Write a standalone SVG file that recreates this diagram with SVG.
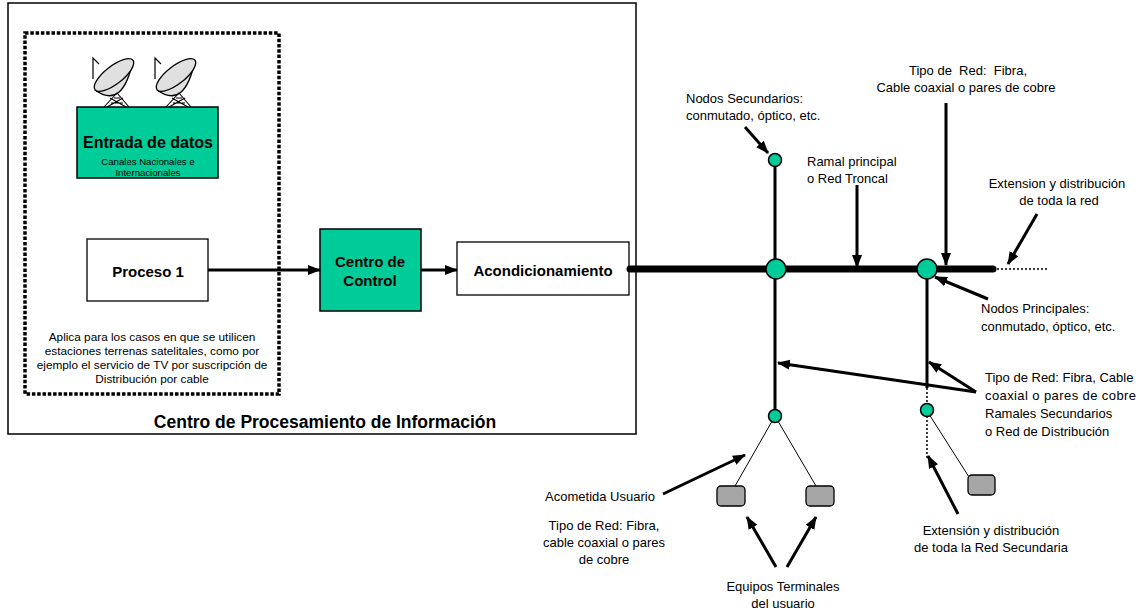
<svg xmlns="http://www.w3.org/2000/svg" width="1141" height="614" viewBox="0 0 1141 614">
<style>
  text { font-family: "Liberation Sans", Arial, sans-serif; fill: #000; white-space: pre; }
  .b { font-weight: bold; font-size: 15px; text-anchor: middle; }
  .title { font-weight: bold; font-size: 17.5px; text-anchor: middle; }
  .lbl { font-size: 13px; }
  .c { text-anchor: middle; }
  .desc { font-size: 11.8px; text-anchor: middle; }
  .small { font-size: 9.6px; text-anchor: middle; }
  .box { fill: #fff; stroke: #000; stroke-width: 1.3; }
  .teal { fill: #00CC99; stroke: #000; stroke-width: 1.5; }
  .node { fill: #00CC99; stroke: #000; stroke-width: 1.5; }
  .term { fill: #A6A6A6; stroke: #000; stroke-width: 1.3; }
  .arr { stroke: #000; stroke-width: 3; fill: none; marker-end: url(#ah); }
  .line { stroke: #000; fill: none; }
  .dish { fill: #E0E0E0; stroke: #000; stroke-width: 1.3; }
</style>
<defs>
  <marker id="ah" markerUnits="userSpaceOnUse" markerWidth="14" markerHeight="12" refX="12" refY="5" orient="auto">
    <path d="M0,0 L13,5 L0,10 Z" fill="#000"/>
  </marker>
  <g id="dishShape">
    <path d="M0,21 L0,0 L6,6" class="line" stroke-width="1.2"/>
    <path d="M2,32 Q30,52 40,2" class="dish"/>
    <ellipse cx="21" cy="17" rx="24" ry="9" transform="rotate(-38 21 17)" class="dish"/>
    <path d="M11,49 L24,35 L36,49 M14,49 L30,40 M33,49 L17,40 M18,45 L30,45 M21,40 L27,40" class="line" stroke-width="1.1"/>
  </g>
</defs>

<g id="centro-procesamiento">
  <rect x="8" y="3" width="628" height="431" fill="none" stroke="#000" stroke-width="1.5"/>
  <text class="title" x="325" y="428">Centro de Procesamiento de Información</text>
</g>

<g id="zona-satelital">
  <rect x="25" y="33" width="254" height="361" fill="none" stroke="#000" stroke-width="3.5" stroke-dasharray="3.5 1.8"/>
  <text class="desc" x="152" y="341">Aplica para los casos en que se utilicen</text>
  <text class="desc" x="152" y="355">estaciones terrenas satelitales, como por</text>
  <text class="desc" x="152" y="369">ejemplo el servicio de TV por suscripción de</text>
  <text class="desc" x="152" y="383">Distribución por cable</text>
</g>

<g id="antenas">
  <use href="#dishShape" x="93" y="58"/>
  <use href="#dishShape" x="155" y="58"/>
</g>

<g id="entrada-datos">
  <rect x="77" y="107" width="141" height="71" class="teal"/>
  <text class="b" x="148" y="148" style="font-size:16px">Entrada de datos</text>
  <text class="small" x="148" y="165">Canales Nacionales e</text>
  <text class="small" x="148" y="176">Internacionales</text>
</g>

<g id="proceso-1">
  <rect x="87" y="239" width="121" height="62" class="box"/>
  <text class="b" x="148" y="277">Proceso 1</text>
</g>

<g id="centro-control">
  <rect x="320" y="229" width="101" height="82" class="teal"/>
  <text class="b" x="370" y="267">Centro de</text>
  <text class="b" x="370" y="286">Control</text>
</g>

<g id="acondicionamiento">
  <rect x="457" y="242" width="172" height="53" class="box"/>
  <text class="b" x="543" y="276">Acondicionamiento</text>
</g>

<g id="connectors">
  <line x1="208" y1="270" x2="320" y2="270" class="arr"/>
  <line x1="421" y1="270" x2="457" y2="270" class="arr"/>
  <line x1="630" y1="269" x2="993" y2="269" stroke="#000" stroke-width="7" stroke-linecap="round"/>
  <line x1="997" y1="269" x2="1047" y2="269" stroke="#000" stroke-width="1.5" stroke-dasharray="2 2"/>
  <line x1="775" y1="160" x2="775" y2="416" stroke="#000" stroke-width="3"/>
  <line x1="927" y1="269" x2="927" y2="388" stroke="#000" stroke-width="3"/>
  <line x1="927" y1="388" x2="927" y2="405" stroke="#000" stroke-width="1.5" stroke-dasharray="2 2"/>
  <line x1="927" y1="416" x2="927" y2="460" stroke="#000" stroke-width="1.5" stroke-dasharray="2 2"/>
  <line x1="775" y1="416" x2="735" y2="486" stroke="#000" stroke-width="1"/>
  <line x1="775" y1="416" x2="816" y2="486" stroke="#000" stroke-width="1"/>
  <line x1="927" y1="411" x2="969" y2="477" stroke="#000" stroke-width="1"/>
  <line x1="745" y1="127" x2="768" y2="153" class="arr"/>
  <line x1="857" y1="185" x2="857" y2="267" class="arr"/>
  <line x1="946" y1="103" x2="946" y2="265" class="arr"/>
  <line x1="1037" y1="214" x2="1008" y2="264" class="arr"/>
  <line x1="988" y1="299" x2="935" y2="277" class="arr"/>
  <line x1="976" y1="392" x2="778" y2="363" class="arr"/>
  <line x1="976" y1="392" x2="929" y2="362" class="arr"/>
  <line x1="663" y1="494" x2="745" y2="455" class="arr"/>
  <line x1="776" y1="567" x2="747" y2="517" class="arr"/>
  <line x1="787" y1="567" x2="816" y2="517" class="arr"/>
  <line x1="958" y1="514" x2="928" y2="456" class="arr"/>
</g>

<g id="nodos">
  <circle cx="775" cy="160" r="6.5" class="node"/>
  <circle cx="776" cy="269" r="10" class="node"/>
  <circle cx="927" cy="269" r="10" class="node"/>
  <circle cx="775" cy="416" r="6.5" class="node"/>
  <circle cx="927" cy="410" r="6.5" class="node"/>
</g>

<g id="terminales">
  <rect x="717" y="486" width="28" height="20" rx="4" class="term"/>
  <rect x="806" y="486" width="28" height="20" rx="4" class="term"/>
  <rect x="968" y="475" width="27" height="20" rx="4" class="term"/>
</g>

<g id="etiquetas">
  <text class="lbl" x="686" y="103">Nodos Secundarios:</text>
  <text class="lbl" x="686" y="120">conmutado, óptico, etc.</text>
  <text class="lbl" x="807" y="166">Ramal principal</text>
  <text class="lbl" x="807" y="183">o Red Troncal</text>
  <text class="lbl c" x="968" y="75">Tipo de  Red:  Fibra,</text>
  <text class="lbl c" x="966" y="92">Cable coaxial o pares de cobre</text>
  <text class="lbl c" x="1057" y="188">Extension y distribución</text>
  <text class="lbl c" x="1059" y="205">de toda la red</text>
  <text class="lbl" x="981" y="313">Nodos Principales:</text>
  <text class="lbl" x="981" y="331">conmutado, óptico, etc.</text>
  <text class="lbl" x="985" y="382">Tipo de Red: Fibra, Cable</text>
  <text class="lbl" x="985" y="400" textLength="151" lengthAdjust="spacing">coaxial o pares de cobre</text>
  <text class="lbl" x="985" y="418">Ramales Secundarios</text>
  <text class="lbl" x="985" y="436">o Red de Distribución</text>
  <text class="lbl c" x="600" y="501">Acometida Usuario</text>
  <text class="lbl c" x="604" y="530">Tipo de Red: Fibra,</text>
  <text class="lbl c" x="604" y="547">cable coaxial o pares</text>
  <text class="lbl c" x="604" y="564">de cobre</text>
  <text class="lbl c" x="783" y="591">Equipos Terminales</text>
  <text class="lbl c" x="783" y="608">del usuario</text>
  <text class="lbl c" x="991" y="535">Extensión y distribución</text>
  <text class="lbl c" x="991" y="552">de toda la Red Secundaria</text>
</g>
</svg>
